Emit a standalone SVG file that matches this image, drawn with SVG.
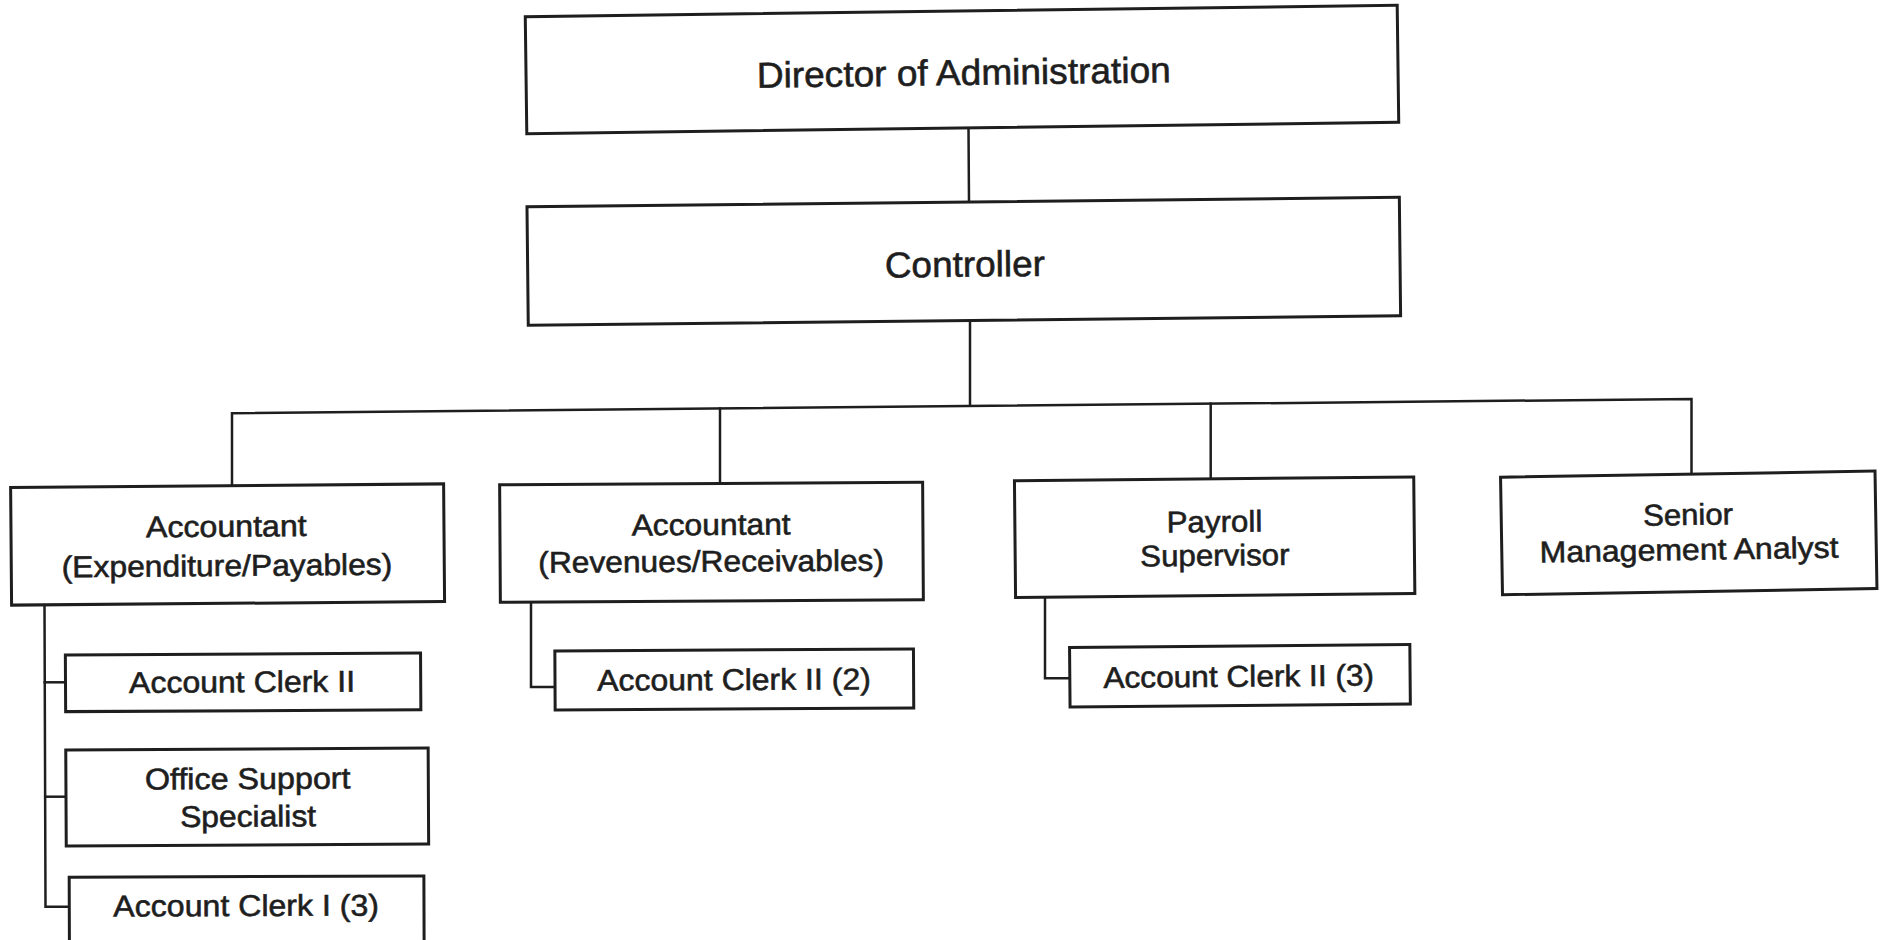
<svg xmlns="http://www.w3.org/2000/svg" width="1885" height="940" viewBox="0 0 1885 940">
  <style>
    .box { fill: #ffffff; stroke: #1e1e1e; stroke-width: 3; }
    .wire { fill: none; stroke: #1e1e1e; stroke-width: 2.5; stroke-linejoin: miter; stroke-linecap: square; }
    text { font-family: "Liberation Sans", Arial, sans-serif; fill: #1e1e1e; stroke: #1e1e1e; stroke-width: 0.6; text-anchor: middle; }
    .t1 { font-size: 36px; }
    .t2 { font-size: 30px; }
  </style>
  <rect width="1885" height="940" fill="#ffffff"/>

  <!-- reporting lines -->
  <g id="connectors">
    <path class="wire" d="M968.5 128 L969 202"/>
    <path class="wire" d="M970 320 L970 404"/>
    <path class="wire" d="M232 485.5 L232 413.3 L1691.5 399 L1691.5 474"/>
    <path class="wire" d="M720 408.5 L720 483.5"/>
    <path class="wire" d="M1210.7 403.7 L1210.7 478.8"/>
    <path class="wire" d="M44.5 604 L45.5 906.7 L69 906.7"/>
    <path class="wire" d="M44.7 682.3 L65.5 682.3"/>
    <path class="wire" d="M45.2 796.7 L66 796.7"/>
    <path class="wire" d="M531 602 L531 687 L555 687"/>
    <path class="wire" d="M1045 596 L1045 678.3 L1070 678.3"/>
  </g>

  <g id="director" transform="rotate(-0.75 962 69.5)">
    <rect class="box" x="526" y="11" width="872" height="117"/>
    <text class="t1" x="963.7" y="85" textLength="414" lengthAdjust="spacingAndGlyphs">Director of Administration</text>
  </g>

  <g id="controller" transform="rotate(-0.62 963.8 261.25)">
    <rect class="box" x="527.6" y="202" width="872.4" height="118.5"/>
    <text class="t1" x="964.8" y="276.7" textLength="160" lengthAdjust="spacingAndGlyphs">Controller</text>
  </g>

  <g id="accountant-payables" transform="rotate(-0.47 227.6 544.5)">
    <rect class="box" x="11.1" y="485.65" width="433" height="117.7"/>
    <text class="t2" x="226.5" y="536.7" textLength="160.7" lengthAdjust="spacingAndGlyphs">Accountant</text>
    <text class="t2" x="226.8" y="576" textLength="330.6" lengthAdjust="spacingAndGlyphs">(Expenditure/Payables)</text>
  </g>

  <g id="accountant-receivables" transform="rotate(-0.35 711.5 542.25)">
    <rect class="box" x="500" y="483.5" width="423" height="117.5"/>
    <text class="t2" x="711.2" y="535" textLength="159" lengthAdjust="spacingAndGlyphs">Accountant</text>
    <text class="t2" x="711" y="571.7" textLength="345.7" lengthAdjust="spacingAndGlyphs">(Revenues/Receivables)</text>
  </g>

  <g id="payroll-supervisor" transform="rotate(-0.55 1214.65 537.2)">
    <rect class="box" x="1015" y="478.9" width="399.3" height="116.6"/>
    <text class="t2" x="1214.6" y="532" textLength="95.6" lengthAdjust="spacingAndGlyphs">Payroll</text>
    <text class="t2" x="1214.7" y="565.7" textLength="149.3" lengthAdjust="spacingAndGlyphs">Supervisor</text>
  </g>

  <g id="senior-analyst" transform="rotate(-0.95 1688.75 532.9)">
    <rect class="box" x="1501.5" y="474.15" width="374.5" height="117.5"/>
    <text class="t2" x="1688.3" y="525" textLength="90" lengthAdjust="spacingAndGlyphs">Senior</text>
    <text class="t2" x="1688.8" y="560" textLength="299" lengthAdjust="spacingAndGlyphs">Management Analyst</text>
  </g>

  <g id="clerk-ii-payables" transform="rotate(-0.3 243.1 682.4)">
    <rect class="box" x="65.5" y="654" width="355.2" height="56.7"/>
    <text class="t2" x="242" y="692.3" textLength="226" lengthAdjust="spacingAndGlyphs">Account Clerk II</text>
  </g>

  <g id="office-support" transform="rotate(-0.3 247.2 797)">
    <rect class="box" x="66" y="749" width="362.4" height="96"/>
    <text class="t2" x="247.8" y="789" textLength="205.7" lengthAdjust="spacingAndGlyphs">Office Support</text>
    <text class="t2" x="248" y="826.7" textLength="136" lengthAdjust="spacingAndGlyphs">Specialist</text>
  </g>

  <g id="clerk-i" transform="rotate(-0.2 246.7 911)">
    <rect class="box" x="69.3" y="876.6" width="354.7" height="70"/>
    <text class="t2" x="246.2" y="916" textLength="265.7" lengthAdjust="spacingAndGlyphs">Account Clerk I (3)</text>
  </g>

  <g id="clerk-ii-receivables" transform="rotate(-0.3 734.3 679.5)">
    <rect class="box" x="555" y="650" width="358.6" height="59"/>
    <text class="t2" x="734" y="690" textLength="273.6" lengthAdjust="spacingAndGlyphs">Account Clerk II (2)</text>
  </g>

  <g id="clerk-ii-payroll" transform="rotate(-0.5 1239.95 675.75)">
    <rect class="box" x="1069.8" y="646" width="340.3" height="59.5"/>
    <text class="t2" x="1238.7" y="686.7" textLength="270.7" lengthAdjust="spacingAndGlyphs">Account Clerk II (3)</text>
  </g>
</svg>
